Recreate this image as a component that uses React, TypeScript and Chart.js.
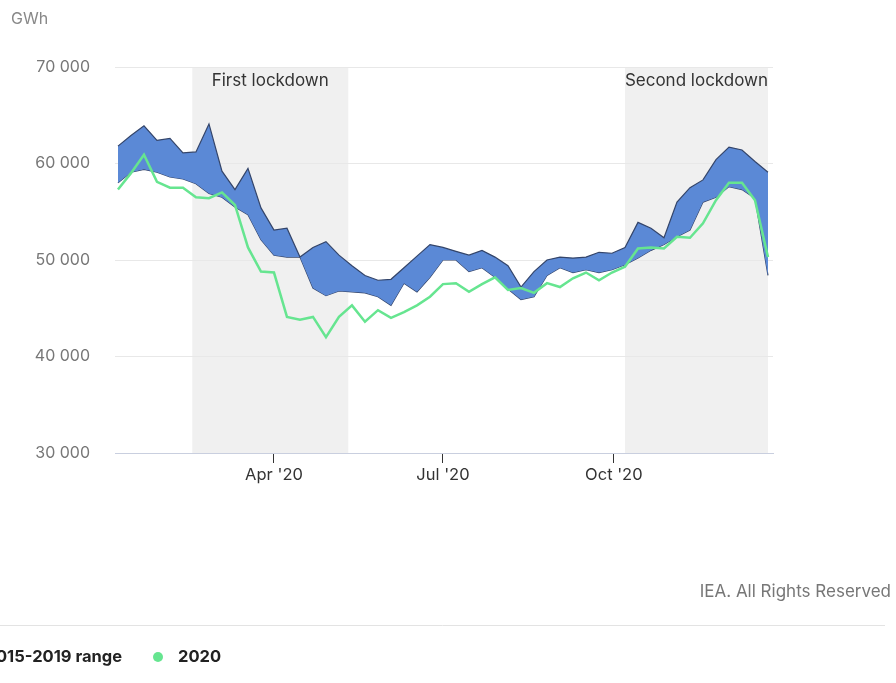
import React, { useEffect, useRef } from "react";
import { Chart, registerables } from "chart.js";

Chart.register(...registerables);

// Week positions (day of year 2020, 0 = Jan 1)
const weekDays = [
  7, 14, 21, 28, 35, 42, 49, 56, 63, 70, 77, 84, 91, 98, 105, 112, 119, 126, 133, 140,
  147, 154, 161, 168, 175, 182, 189, 196, 203, 210, 217, 224, 231, 238, 245, 252, 259, 266, 273, 280,
  287, 294, 301, 308, 315, 322, 329, 336, 343, 350, 357,
];

// 2015-2019 range, upper bound (GWh)
const rangeMax = [
  61800, 62900, 63900, 62400, 62600, 61100, 61200, 64100, 59200, 57300,
  59500, 55400, 53100, 53300, 50300, 51300, 51900, 50500, 49400, 48400,
  47900, 48000, 49200, 50400, 51600, 51300, 50900, 50500, 51000, 50300,
  49400, 47200, 48800, 50000, 50300, 50200, 50300, 50800, 50700, 51300,
  53900, 53300, 52300, 56000, 57500, 58300, 60400, 61700, 61400, 60200,
  59100,
];

// 2015-2019 range, lower bound (GWh)
const rangeMin = [
  58000, 59100, 59400, 59100, 58600, 58400, 57900, 56900, 56500, 55500,
  54700, 52100, 50500, 50300, 50300, 47100, 46300, 46800, 46700, 46600,
  46200, 45300, 47600, 46700, 48200, 50000, 50000, 48800, 49200, 48200,
  47000, 45900, 46200, 48400, 49200, 48700, 49000, 48700, 49000, 49500,
  50200, 51000, 51600, 52400, 53100, 56000, 56500, 57600, 57300, 56400,
  48400,
];

// 2020 (GWh)
const values2020 = [
  57300, 59000, 60900, 58100, 57500, 57500, 56500, 56400, 57000, 55700,
  51300, 48800, 48700, 44100, 43800, 44100, 42000, 44100, 45300, 43600,
  44800, 44000, 44600, 45300, 46200, 47500, 47600, 46700, 47500, 48200,
  46900, 47100, 46600, 47600, 47200, 48100, 48700, 47900, 48700, 49300,
  51200, 51300, 51200, 52400, 52300, 53800, 56200, 58000, 58000, 56200,
  50300,
];

const tickDays = [91, 182, 274];
const tickLabels = ["Apr '20", "Jul '20", "Oct '20"];
const yTicks = [30000, 40000, 50000, 60000, 70000];

const lockdownNames = ["First lockdown", "Second lockdown"];
const lockdownStart = [47, 280];
const lockdownEnd = [131, 357];

const seriesNames = ["2015-2019 range", "2020"];

const FONT = "Inter, 'Noto Sans', sans-serif";
const BLUE = "#5b89d6";
const OUTLINE = "#34456a";
const GREEN = "#66e590";

const fmt = (v: number) => String(v).replace(/\B(?=(\d{3})+(?!\d))/g, " ");

const decorPlugin = {
  id: "decor",
  beforeDraw(chart: any) {
    const { ctx, chartArea, scales } = chart;
    const x = scales.x;
    ctx.save();
    ctx.fillStyle = "#f0f0f0";
    for (let i = 0; i < lockdownStart.length; i++) {
      const x0 = x.getPixelForValue(lockdownStart[i]);
      const x1 = x.getPixelForValue(lockdownEnd[i]);
      ctx.fillRect(x0, chartArea.top, x1 - x0, chartArea.bottom - chartArea.top);
    }
    ctx.restore();
  },
  afterDraw(chart: any) {
    const { ctx, chartArea, scales } = chart;
    const x = scales.x;
    ctx.save();
    // lockdown labels
    ctx.font = `17px ${FONT}`;
    ctx.fillStyle = "#333";
    ctx.textAlign = "center";
    ctx.textBaseline = "middle";
    for (let i = 0; i < lockdownStart.length; i++) {
      const x0 = x.getPixelForValue(lockdownStart[i]);
      const x1 = x.getPixelForValue(lockdownEnd[i]);
      ctx.fillText(lockdownNames[i], (x0 + x1) / 2, chartArea.top + 14);
    }
    // unit
    ctx.font = `16px ${FONT}`;
    ctx.fillStyle = "#888";
    ctx.textAlign = "left";
    ctx.fillText("GWh", 11, 19);
    // credit
    ctx.font = `17px ${FONT}`;
    ctx.fillStyle = "#777";
    ctx.textAlign = "right";
    ctx.fillText("IEA. All Rights Reserved", 891, 592);
    // separator
    ctx.strokeStyle = "#e3e3e3";
    ctx.lineWidth = 1;
    ctx.beginPath();
    ctx.moveTo(0, 625.5);
    ctx.lineTo(885, 625.5);
    ctx.stroke();
    // legend
    ctx.font = `bold 16.5px ${FONT}`;
    ctx.fillStyle = "#222";
    ctx.textAlign = "right";
    ctx.fillText(seriesNames[0], 122, 657);
    ctx.fillStyle = GREEN;
    ctx.beginPath();
    ctx.arc(158, 657, 5, 0, Math.PI * 2);
    ctx.fill();
    ctx.fillStyle = "#222";
    ctx.textAlign = "left";
    ctx.fillText(seriesNames[1], 178, 657);
    ctx.restore();
  },
};

export default function App() {
  const ref = useRef<HTMLCanvasElement | null>(null);
  useEffect(() => {
    if (!ref.current) return;
    const toPts = (arr: number[]) => arr.map((v, i) => ({ x: weekDays[i], y: v }));
    const chart = new Chart(ref.current, {
      type: "line",
      data: {
        datasets: [
          {
            label: "max",
            data: toPts(rangeMax),
            borderColor: OUTLINE,
            borderWidth: 1.2,
            backgroundColor: BLUE,
            fill: "+1",
            pointRadius: 0,
            tension: 0,
            order: 2,
          },
          {
            label: seriesNames[0],
            data: toPts(rangeMin),
            borderColor: OUTLINE,
            borderWidth: 1.2,
            backgroundColor: BLUE,
            fill: false,
            pointRadius: 0,
            tension: 0,
            order: 2,
          },
          {
            label: seriesNames[1],
            data: toPts(values2020),
            borderColor: GREEN,
            borderWidth: 2.5,
            fill: false,
            pointRadius: 0,
            tension: 0,
            order: 0,
          },
        ],
      },
      options: {
        animation: false,
        responsive: false,
        devicePixelRatio: 1,
        layout: { padding: { left: 0, right: 123, top: 67, bottom: 190 } },
        plugins: { legend: { display: false }, tooltip: { enabled: false } },
        scales: {
          x: {
            type: "linear",
            min: 5.4,
            max: 359.7,
            afterFit: (s: any) => {
              s.height = 40;
            },
            afterBuildTicks: (s: any) => {
              s.ticks = tickDays.map((v) => ({ value: v }));
            },
            ticks: {
              autoSkip: false,
              maxRotation: 0,
              padding: 2,
              color: "#333",
              font: { family: FONT, size: 16.5 },
              callback: (v: any) => {
                const i = tickDays.indexOf(Number(v));
                return i >= 0 ? tickLabels[i] : "";
              },
            },
            grid: {
              drawOnChartArea: false,
              drawTicks: true,
              tickLength: 10,
              color: "#333",
              tickColor: "#333",
            },
            border: { color: "#c9cfdf", width: 1 },
          },
          y: {
            min: 30000,
            max: 70000,
            afterFit: (s: any) => {
              s.width = 115;
            },
            afterBuildTicks: (s: any) => {
              s.ticks = yTicks.map((v) => ({ value: v }));
            },
            ticks: {
              padding: 25,
              color: "#777",
              font: { family: FONT, size: 16 },
              callback: (v: any) => fmt(Number(v)),
            },
            grid: { color: "#e8e8e8", drawTicks: false },
            border: { display: false },
          },
        },
      },
      plugins: [decorPlugin],
    });
    return () => chart.destroy();
  }, []);
  return (
    <div style={{ position: "absolute", left: 0, top: 0, width: 896, height: 683, background: "#fff" }}>
      <canvas ref={ref} width={896} height={683} style={{ display: "block" }} />
    </div>
  );
}
